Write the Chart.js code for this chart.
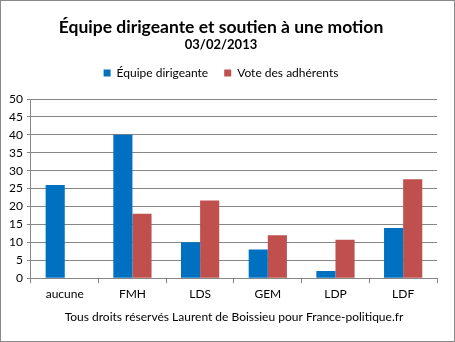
<!DOCTYPE html>
<html>
<head>
<meta charset="utf-8">
<script src="https://cdn.jsdelivr.net/npm/chart.js@4"></script>
<style>
  body { margin: 0; background: #fff; }
  .main { position: absolute; left: 0; top: 0; width: 453px; height: 340px; border: 1px solid #8a8a8a; }
</style>
</head>
<body>
<div class="main"><canvas id="myChart" width="453" height="340"></canvas></div>
<script>
const categories = ['aucune', 'FMH', 'LDS', 'GEM', 'LDP', 'LDF'];
const equipe = [26, 40, 10, 8, 2, 14];
const adherents = [null, 18, 21.7, 12, 10.7, 27.6];
const yTicks = [0, 5, 10, 15, 20, 25, 30, 35, 40, 45, 50];

const font = 'Lato';
const gray = '#868686';

// extra space under the legend
const legendGap = {
  id: 'legendGap',
  beforeInit(chart) {
    const fit = chart.legend.fit;
    chart.legend.fit = function () {
      fit.bind(chart.legend)();
      this.height += 10;
    };
  },
};

new Chart(document.getElementById('myChart'), {
  type: 'bar',
  data: {
    labels: categories,
    datasets: [
      { label: 'Équipe dirigeante', data: equipe, backgroundColor: '#0070c0' },
      { label: 'Vote des adhérents', data: adherents, backgroundColor: '#c0504d' },
    ],
  },
  options: {
    responsive: false,
    animation: false,
    datasets: { bar: { categoryPercentage: 0.565, barPercentage: 1 } },
    layout: { padding: { left: 4, right: 17, top: 6, bottom: 13 } },
    plugins: {
      title: {
        display: true,
        text: 'Équipe dirigeante et soutien à une motion',
        color: '#000',
        font: { family: font, size: 17.5, weight: 'bold', lineHeight: 1.2 },
        padding: { top: 10, bottom: 0 },
      },
      subtitle: {
        display: true,
        text: '03/02/2013',
        color: '#000',
        font: { family: font, size: 13, weight: 'bold', lineHeight: 1 },
        padding: { top: 0, bottom: 0 },
      },
      legend: {
        labels: {
          boxWidth: 7,
          boxHeight: 7,
          padding: 16,
          color: '#000',
          font: { family: font, size: 12 },
        },
      },
      tooltip: { enabled: false },
    },
    scales: {
      y: {
        min: 0,
        max: 50,
        afterBuildTicks: (axis) => {
          axis.ticks = yTicks.map((v) => ({ value: v }));
        },
        border: { color: gray },
        grid: { color: gray, tickLength: 4, lineWidth: 1 },
        ticks: { color: '#000', padding: 4, font: { family: font, size: 12 } },
      },
      x: {
        border: { color: gray },
        grid: { offset: true, drawOnChartArea: false, color: gray, tickLength: 5 },
        ticks: { color: '#000', padding: 4, font: { family: font, size: 12 } },
        title: {
          display: true,
          text: 'Tous droits réservés Laurent de Boissieu pour France-politique.fr',
          color: '#000',
          font: { family: font, size: 12 },
          padding: { top: 4 },
        },
      },
    },
  },
  plugins: [legendGap],
});
</script>
</body>
</html>
